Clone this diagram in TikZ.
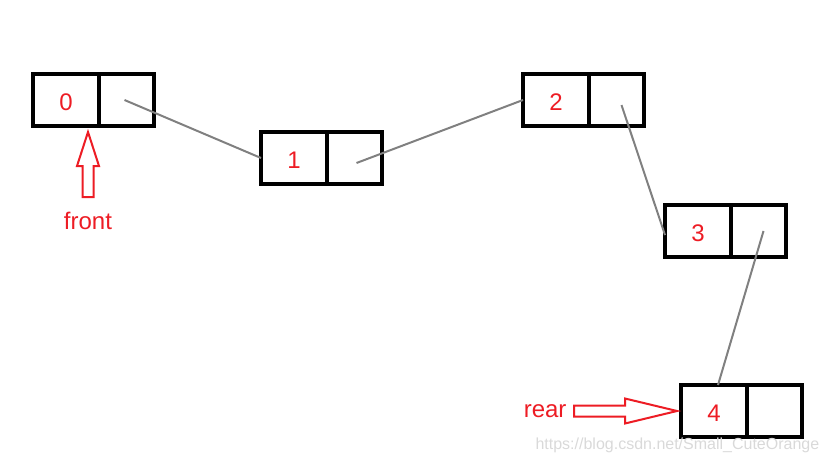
\documentclass[tikz,border=0pt]{standalone}
\usepackage{fontspec}
\setmainfont{Liberation Sans}
\usetikzlibrary{positioning}
\definecolor{pred}{RGB}{237,28,36}
\definecolor{pgray}{RGB}{128,128,128}

\begin{document}
\begin{tikzpicture}[
    x=1pt, y=-1pt,
    datacell/.style={draw, line width=4pt, minimum width=66pt, minimum height=52pt, inner sep=0pt, outer sep=0pt, text height=21pt, text depth=0pt, font=\fontsize{24}{28}\selectfont, text=pred},
    ptrcell/.style={draw, line width=4pt, minimum width=55pt, minimum height=52pt, inner sep=0pt, outer sep=0pt},
    link/.style={line width=2pt, pgray},
    hollow/.style={draw=pred, line width=2pt, fill=white},
    ptrlabel/.style={font=\fontsize{24}{28}\selectfont, text=pred}
]
\useasboundingbox (0,0) rectangle (824,460);

%% queue nodes
\node[datacell] (d0) at (66,100) {0};
\node[ptrcell, right=0pt of d0] (p0) {};
\node[datacell] (d1) at (294,158) {1};
\node[ptrcell, right=0pt of d1] (p1) {};
\node[datacell] (d2) at (556,100) {2};
\node[ptrcell, right=0pt of d2] (p2) {};
\node[datacell] (d3) at (698,231) {3};
\node[ptrcell, right=0pt of d3] (p3) {};
\node[datacell] (d4) at (714,411) {4};
\node[ptrcell, right=0pt of d4] (p4) {};

%% links
\draw[link] ([xshift=-2pt]p0.center) -- (d1.west);
\draw[link] ([xshift=2pt,yshift=-5pt]p1.center) -- (d2.west);
\draw[link] ([xshift=5pt,yshift=-5pt]p2.center) -- ([yshift=-4pt]d3.west);
\draw[link] ([xshift=5pt]p3.center) -- ([xshift=4pt]d4.north);

%% front pointer
\coordinate (fronttip) at (88,132);
\draw[hollow] (fronttip) -- ++(11,34) -- ++(-5.5,0) -- ++(0,31) -- ++(-11,0) -- ++(0,-31) -- ++(-5.5,0) -- cycle;
\coordinate (fronttail) at (88,197);
\node[ptrlabel, below=12pt of fronttail] (front) {front};

%% rear pointer
\coordinate[left=4pt of d4.west] (reartip);
\draw[hollow] (reartip) -- ++(-52,-12.5) -- ++(0,7) -- ++(-51,0) -- ++(0,11) -- ++(51,0) -- ++(0,7) -- cycle;
\coordinate[left=103pt of reartip] (reartail);
\node[ptrlabel, left=4pt of reartail] (rear) {rear};

\node[anchor=base west, text=gray!30, font=\fontsize{16}{18}\selectfont] (site) at (532,449) {https://blog.csdn.net/Small\_CuteOrange};

\end{tikzpicture}
\end{document}
